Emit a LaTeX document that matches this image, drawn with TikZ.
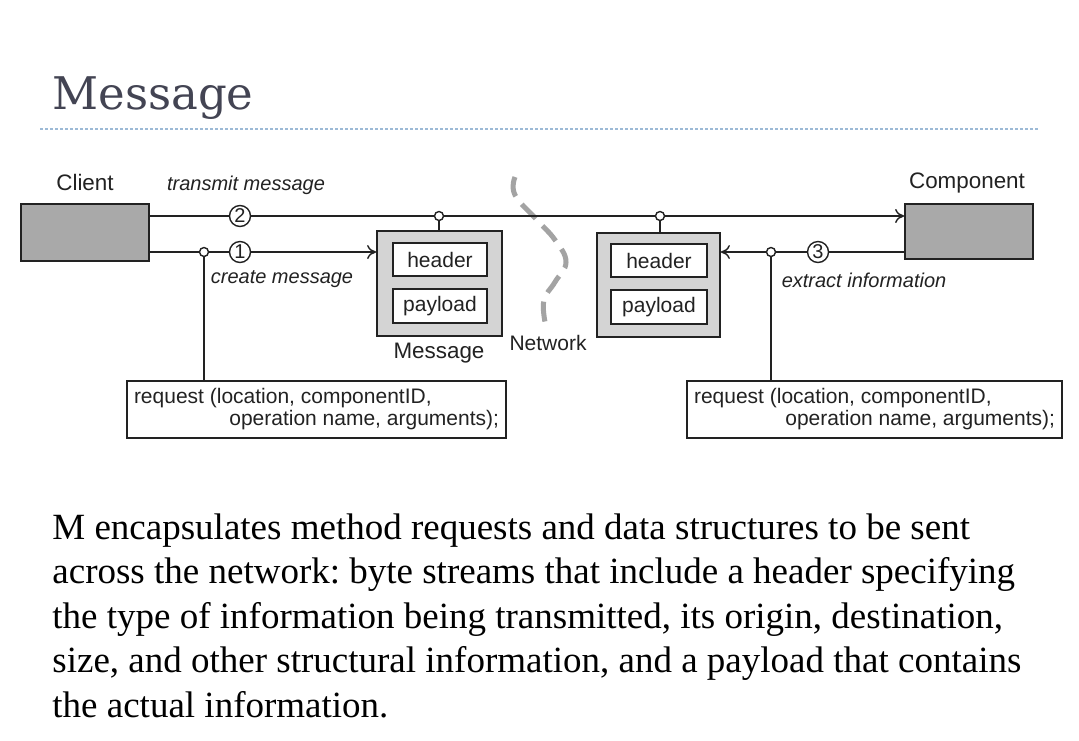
\documentclass[tikz,border=0pt]{standalone}
\usepackage{fontspec}
\setmainfont{Liberation Serif}
\setsansfont{Liberation Sans}
\newfontfamily\titlefont{DejaVu Serif}
\usepackage{xcolor}
\usepackage{tikz}
\usetikzlibrary{positioning,arrows.meta}
\definecolor{titlegray}{HTML}{434453}
\definecolor{rulebl}{HTML}{9DBAD6}
\definecolor{boxdark}{HTML}{A9A9A9}
\definecolor{boxlight}{HTML}{D4D4D4}
\definecolor{netgray}{HTML}{A3A3A3}
\definecolor{inkgray}{HTML}{222222}
\frenchspacing

\begin{document}
\begin{tikzpicture}[x=0.5pt,y=-0.5pt, >={To[length=4.5pt,width=7pt]},
  every node/.style={text=inkgray, font=\sffamily\fontsize{10.5}{11}\selectfont},
  endbox/.style={draw=inkgray, line width=0.9pt, fill=boxdark, inner sep=0pt, minimum width=64pt},
  msgbox/.style={draw=inkgray, line width=0.9pt, fill=boxlight, inner sep=0pt},
  fieldbox/.style={draw=inkgray, line width=0.9pt, fill=white, inner sep=0pt, minimum width=47pt, minimum height=16.5pt},
  reqbox/.style={draw=inkgray, line width=0.8pt, fill=white, minimum height=28.5pt, inner xsep=3pt, inner ysep=2pt, align=left},
  stepnum/.style={circle, draw=inkgray, line width=0.7pt, fill=white, inner sep=0pt, minimum size=10.5pt, font=\sffamily\fontsize{10}{10}\selectfont},
  joint/.style={circle, draw=inkgray, line width=0.7pt, fill=white, inner sep=0pt, minimum size=4.5pt},
  wire/.style={draw=inkgray, line width=0.7pt},
  actor/.style={font=\sffamily\fontsize{11.2}{13}\selectfont},
  lbl/.style={font=\sffamily\itshape\fontsize{10}{12}\selectfont}]
\useasboundingbox[fill=white] (0,0) rectangle (1079,740);

% title and rule
\node[anchor=base west, text=titlegray, inner sep=0pt, font=\titlefont\fontsize{22.5}{27}\selectfont] (title) at (52,109) {Message};
\draw[rulebl, line width=0.6pt, dash pattern=on 1.5pt off 1pt] (40,129) -- (1038,129);

% client and component
\node[endbox, minimum height=28.5pt] (client) at (85,232.5) {};
\node[actor] (clientlbl) at (85,182) {Client};
\node[endbox, minimum height=27.5pt] (component) at (969,231.5) {};
\node[actor] (complbl) at (967,183) {Component};

% messages
\node[msgbox, minimum width=62.5pt, minimum height=52.5pt] (msgL) at (439.5,283.5) {};
\node[fieldbox] (hdrL) at (440,259.5) {header};
\node[fieldbox, minimum height=17pt] (payL) at (440,306) {payload};
\node[actor] (msglbl) at (439,353) {Message};
\node[msgbox, minimum width=61.5pt, minimum height=52pt] (msgR) at (658.5,285) {};
\node[fieldbox, minimum width=48pt] (hdrR) at (659,260.5) {header};
\node[fieldbox, minimum width=48pt, minimum height=17pt] (payR) at (659,307) {payload};

% network
\draw[netgray, line width=2.5pt, dash pattern=on 10pt off 5pt] plot[smooth, tension=0.7] coordinates {(515,177) (515,195) (537,220) (555,240) (566,262) (555,282) (544,300) (545,322)};
\node (netlbl) at (548,343) {Network};

% requests
\node[reqbox, minimum width=189.5pt] (reqL) at (316.5,409.5)
  {\makebox[182.5pt][l]{request (location, componentID,}\\\makebox[182.5pt][r]{operation name, arguments);}};
\node[reqbox, minimum width=187.5pt] (reqR) at (874.5,409.5)
  {\makebox[180.5pt][l]{request (location, componentID,}\\\makebox[180.5pt][r]{operation name, arguments);}};

% steps and joints
\node[stepnum] (n2) at (240,216) {2};
\node[stepnum] (n1) at (240,252) {1};
\node[stepnum] (n3) at (818,252) {3};
\node[joint] (jT1) at (439,216) {};
\node[joint] (jT2) at (660,216) {};
\node[joint] (jL) at (204,252) {};
\node[joint] (jR) at (771,252) {};

\node[lbl] (transmit) at (246,185) {transmit message};
\node[lbl] (create) at (282,279) {create message};
\node[lbl] (extract) at (864,280) {extract information};

% connectors
\draw[wire] (client.east |- n2) -- (n2) -- (jT1) -- (jT2);
\draw[wire,->] (jT2) -- (jT2 -| component.west);
\draw[wire] (jT1) -- (jT1 |- msgL.north);
\draw[wire] (jT2) -- (jT2 |- msgR.north);
\draw[wire] (client.east |- jL) -- (jL) -- (n1);
\draw[wire,->] (n1) -- (n1 -| msgL.west);
\draw[wire] (jL) -- (jL |- reqL.north);
\draw[wire] (component.west |- n3) -- (n3) -- (jR);
\draw[wire,->] (jR) -- (jR -| msgR.east);
\draw[wire] (jR) -- (jR |- reqR.north);

% body text
\node[anchor=base west, align=left, text=black, inner sep=0pt, font=\rmfamily\fontsize{18.5}{22.25}\selectfont] (body) at (52,717)
  {M encapsulates method requests and data structures to be sent\\
   across the network: byte streams that include a header specifying\\
   the type of information being transmitted, its origin, destination,\\
   size, and other structural information, and a payload that contains\\
   the actual information.};
\end{tikzpicture}
\end{document}
